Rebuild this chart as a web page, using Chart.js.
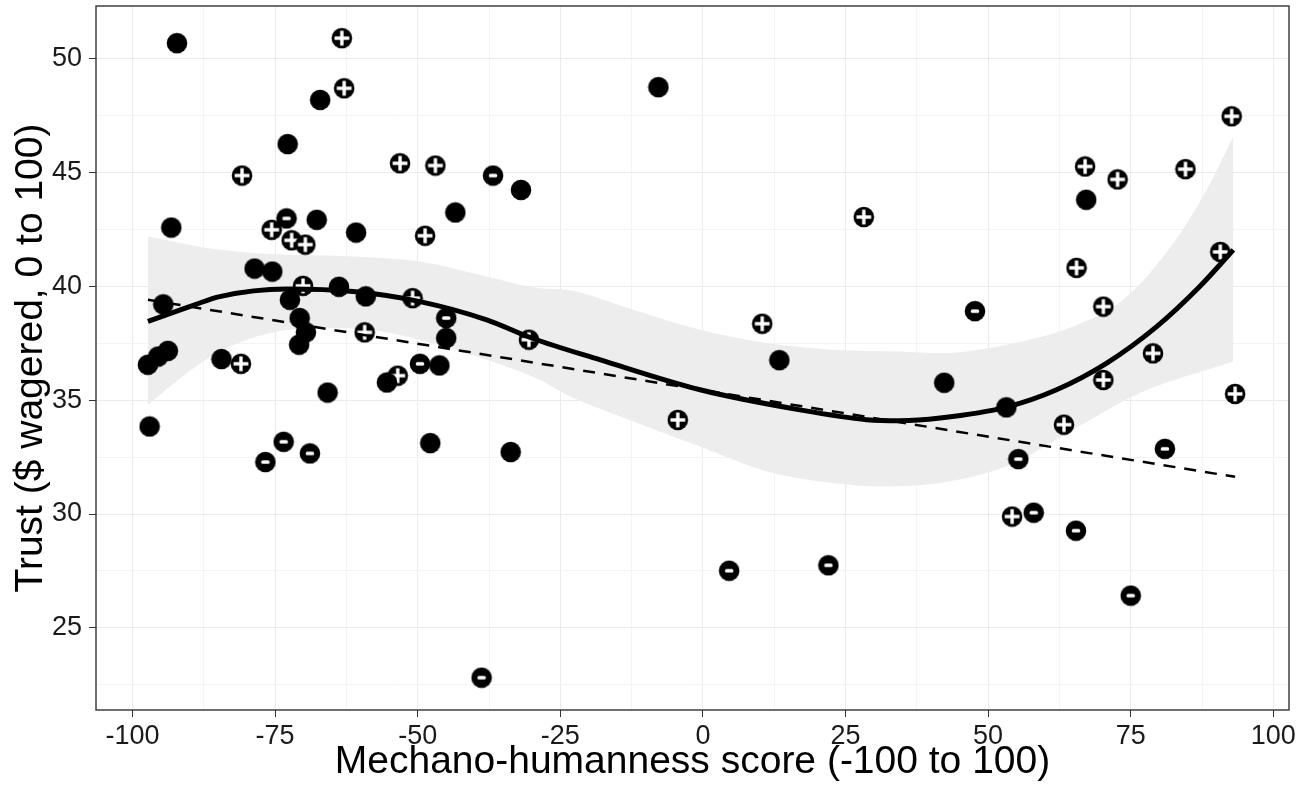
<!DOCTYPE html>
<html>
<head>
<meta charset="utf-8">
<title>Trust vs mechano-humanness</title>
<script src="https://cdn.jsdelivr.net/npm/chart.js@4.4.1/dist/chart.umd.min.js"></script>
<style>
  body { margin: 0; background: #fff; }
  #chart { display: block; }
</style>
</head>
<body>
<canvas id="chart" width="1303" height="786"></canvas>
<script>
// points with no sign (solid dots)
var plainX = [-92.2, -67.1, -72.8, -31.9, -93.2, -67.7, -60.8, -43.4, -78.6, -75.5, -63.8, -59.1, -94.6, -72.4, -70.7, -69.6, -70.8, -45.0, -97.3, -95.5, -93.8, -84.4, -65.8, -55.4, -46.2, -97.0, -47.8, -33.7, -7.8, 13.4, 42.3, 53.2, 67.2];
var plainY = [50.66, 48.17, 46.23, 44.22, 42.57, 42.91, 42.35, 43.23, 40.77, 40.64, 39.97, 39.55, 39.2, 39.4, 38.6, 37.97, 37.43, 37.72, 36.55, 36.91, 37.16, 36.8, 35.33, 35.77, 36.52, 33.84, 33.11, 32.72, 48.73, 36.75, 35.76, 34.68, 43.79];

// points marked with a plus
var plusX = [-63.3, -62.9, -80.8, -53.1, -46.9, -75.6, -72.1, -69.7, -48.7, -70.1, -50.9, -59.3, -30.5, -81.0, -53.5, 28.2, 10.4, -4.4, 92.7, 67.0, 72.7, 84.6, 65.5, 90.7, 70.2, 78.9, 70.2, 93.3, 63.3, 54.2];
var plusY = [50.88, 48.68, 44.85, 45.39, 45.29, 42.47, 42.01, 41.82, 42.21, 40.01, 39.47, 37.97, 37.65, 36.59, 36.07, 43.03, 38.35, 34.13, 47.45, 45.25, 44.68, 45.13, 40.8, 41.5, 39.1, 37.05, 35.88, 35.27, 33.92, 29.89];

// points marked with a minus
var minusX = [-36.8, -73.0, -45.0, -49.6, -73.5, -76.7, -68.9, -38.8, 4.6, 22.0, 47.7, 55.3, 81.0, 58.0, 65.4, 75.0];
var minusY = [44.85, 42.97, 38.6, 36.59, 33.17, 32.28, 32.66, 22.82, 27.51, 27.75, 38.9, 32.41, 32.86, 30.06, 29.27, 26.42];

// smooth fit
var curveX = [-97.3, -89.1, -84.7, -73.0, -61.3, -49.6, -37.9, -29.8, -18.1, -0.5, 17.0, 28.7, 34.5, 41.6, 53.2, 62.0, 70.8, 79.6, 87.1, 93.0];
var curveY = [38.45, 39.18, 39.54, 39.87, 39.76, 39.32, 38.52, 37.7, 36.77, 35.45, 34.57, 34.14, 34.09, 34.21, 34.69, 35.45, 36.62, 38.23, 39.98, 41.59];

// confidence band of the smooth fit
var bandUpX = [-97.3, -84.7, -73.0, -61.3, -49.6, -37.9, -28.6, -23.9, -12.2, -0.5, 11.2, 22.8, 34.5, 41.6, 53.2, 64.9, 73.7, 82.5, 88.3, 93.0];
var bandUpY = [42.18, 41.59, 41.37, 41.3, 41.08, 40.42, 39.91, 39.84, 38.96, 38.08, 37.5, 37.21, 37.13, 37.06, 37.43, 38.23, 39.4, 41.89, 44.22, 46.56];
var bandLoX = [-97.3, -90.5, -84.7, -75.9, -67.2, -58.4, -49.6, -37.9, -28.6, -23.9, -12.2, -0.5, 11.2, 22.8, 31.0, 41.6, 53.2, 64.9, 76.6, 93.0];
var bandLoY = [34.79, 36.18, 37.13, 37.94, 38.16, 38.08, 37.64, 36.77, 35.89, 35.23, 34.06, 32.96, 31.87, 31.36, 31.21, 31.36, 32.09, 33.7, 35.31, 36.69];

// straight fit
var lineX = [-97.3, 93.3];
var lineY = [39.4, 31.63];

// axes
var xTicks = [-100, -75, -50, -25, 0, 25, 50, 75, 100];
var xMinor = [-87.5, -62.5, -37.5, -12.5, 12.5, 37.5, 62.5, 87.5];
var yTicks = [25, 30, 35, 40, 45, 50];
var yMinor = [22.5, 27.5, 32.5, 37.5, 42.5, 47.5];

function toPoints(xs, ys) {
  return xs.map(function (x, i) { return { x: x, y: ys[i] }; });
}

function makeMarker(kind) {
  var c = document.createElement('canvas');
  c.width = 22; c.height = 22;
  var g = c.getContext('2d');
  g.fillStyle = '#000';
  g.beginPath();
  g.arc(11, 11, 10.3, 0, Math.PI * 2);
  g.fill();
  g.fillStyle = '#fff';
  if (kind === 'plus') {
    g.fillRect(9.3, 3.6, 3.4, 14.8);
    g.fillRect(3.6, 9.3, 14.8, 3.4);
  } else if (kind === 'minus') {
    g.beginPath();
    g.roundRect(6.8, 9.2, 8.4, 3.6, 1.6);
    g.fill();
  }
  return c;
}

function allTicks(major, minor) {
  return major.concat(minor).sort(function (a, b) { return a - b; });
}

// full box round the panel, like ggplot's panel border
var panelBorder = {
  id: 'panelBorder',
  afterDatasetsDraw: function (chart) {
    var a = chart.chartArea, c = chart.ctx;
    c.save();
    c.strokeStyle = '#333333';
    c.lineWidth = 1.4;
    c.strokeRect(a.left, a.top, a.right - a.left, a.bottom - a.top);
    c.restore();
  }
};

var tickFont = { family: 'Liberation Sans, Arial, sans-serif', size: 27 };
var titleFont = { family: 'Liberation Sans, Arial, sans-serif', size: 39 };

var ctx = document.getElementById('chart').getContext('2d');
var chart = new Chart(ctx, {
  type: 'scatter',
  data: {
    datasets: [
      {
        label: 'fit',
        data: toPoints(curveX, curveY),
        showLine: true,
        borderColor: '#000',
        borderWidth: 5,
        pointRadius: 0,
        cubicInterpolationMode: 'monotone',
        fill: false,
        order: 0
      },
      {
        label: 'linear',
        data: toPoints(lineX, lineY),
        showLine: true,
        borderColor: '#000',
        borderWidth: 2.5,
        borderDash: [12, 9],
        pointRadius: 0,
        fill: false,
        order: 1
      },
      {
        label: 'plain',
        data: toPoints(plainX, plainY),
        pointStyle: makeMarker('plain'),
        pointRadius: 11,
        order: 2
      },
      {
        label: 'plus',
        data: toPoints(plusX, plusY),
        pointStyle: makeMarker('plus'),
        pointRadius: 11,
        order: 2
      },
      {
        label: 'minus',
        data: toPoints(minusX, minusY),
        pointStyle: makeMarker('minus'),
        pointRadius: 11,
        order: 2
      },
      {
        label: 'band low',
        data: toPoints(bandLoX, bandLoY),
        showLine: true,
        borderWidth: 0,
        borderColor: 'rgba(0,0,0,0)',
        pointRadius: 0,
        cubicInterpolationMode: 'monotone',
        fill: false,
        order: 5
      },
      {
        label: 'band high',
        data: toPoints(bandUpX, bandUpY),
        showLine: true,
        borderWidth: 0,
        borderColor: 'rgba(0,0,0,0)',
        backgroundColor: '#ededed',
        pointRadius: 0,
        cubicInterpolationMode: 'monotone',
        fill: 5,
        order: 4
      }
    ]
  },
  options: {
    responsive: false,
    animation: false,
    layout: { autoPadding: false, padding: { left: 0, right: 14, top: 6, bottom: 0 } },
    plugins: {
      legend: { display: false },
      tooltip: { enabled: false }
    },
    scales: {
      x: {
        type: 'linear',
        min: -106.4,
        max: 102.75,
        afterBuildTicks: function (scale) {
          scale.ticks = allTicks(xTicks, xMinor).map(function (v) { return { value: v }; });
        },
        afterFit: function (scale) {
          scale.height = 76;
          scale.paddingLeft = 0;
          scale.paddingRight = 0;
        },
        border: { display: false },
        grid: {
          color: function (c) { return xTicks.indexOf(c.tick.value) >= 0 ? '#ebebeb' : '#f4f4f4'; },
          tickColor: function (c) { return xTicks.indexOf(c.tick.value) >= 0 ? '#333333' : 'rgba(0,0,0,0)'; },
          tickLength: 7,
          lineWidth: 1
        },
        ticks: {
          autoSkip: false,
          maxRotation: 0,
          padding: 3,
          color: '#1a1a1a',
          font: tickFont,
          callback: function (v) { return xTicks.indexOf(v) >= 0 ? String(v) : ''; }
        },
        title: {
          display: true,
          text: 'Mechano-humanness score (-100 to 100)',
          color: '#000',
          padding: { top: 0, bottom: 0 },
          font: titleFont
        }
      },
      y: {
        type: 'linear',
        min: 21.4,
        max: 52.29,
        afterBuildTicks: function (scale) {
          scale.ticks = allTicks(yTicks, yMinor).map(function (v) { return { value: v }; });
        },
        afterFit: function (scale) {
          scale.width = 96;
          scale.paddingTop = 0;
          scale.paddingBottom = 0;
        },
        border: { display: false },
        grid: {
          color: function (c) { return yTicks.indexOf(c.tick.value) >= 0 ? '#ebebeb' : '#f4f4f4'; },
          tickColor: function (c) { return yTicks.indexOf(c.tick.value) >= 0 ? '#333333' : 'rgba(0,0,0,0)'; },
          tickLength: 7,
          lineWidth: 1
        },
        ticks: {
          autoSkip: false,
          padding: 7,
          color: '#1a1a1a',
          font: tickFont,
          callback: function (v) { return yTicks.indexOf(v) >= 0 ? String(v) : ''; }
        },
        title: {
          display: true,
          text: 'Trust ($ wagered, 0 to 100)',
          color: '#000',
          padding: { top: 8, bottom: 0 },
          font: titleFont
        }
      }
    }
  },
  plugins: [panelBorder]
});
</script>
</body>
</html>
